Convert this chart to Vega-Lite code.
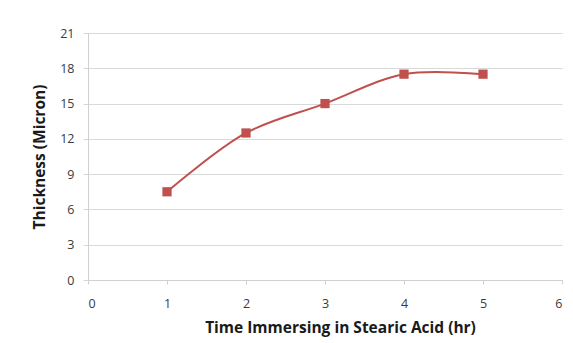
{
  "$schema": "https://vega.github.io/schema/vega-lite/v6.json",
  "width": 474,
  "height": 247,
  "autosize": {"type": "none"},
  "padding": {"left": 88, "top": 33, "right": 11, "bottom": 63},
  "background": "white",
  "data": {
    "values": [
      {"time": 1, "thickness": 7.5},
      {"time": 2, "thickness": 12.5},
      {"time": 3, "thickness": 15},
      {"time": 4, "thickness": 17.5},
      {"time": 5, "thickness": 17.5}
    ]
  },
  "encoding": {
    "x": {
      "field": "time",
      "type": "quantitative",
      "scale": {"domain": [0, 6], "nice": false, "zero": false},
      "axis": {
        "title": "Time Immersing in Stearic Acid (hr)",
        "values": [0, 1, 2, 3, 4, 5, 6],
        "grid": false,
        "domain": true,
        "domainColor": "#d0d0d0",
        "domainWidth": 1,
        "ticks": true,
        "tickColor": "#d0d0d0",
        "tickSize": 4,
        "labelPadding": 13,
        "titlePadding": 11,
        "titleX": 252
      }
    },
    "y": {
      "field": "thickness",
      "type": "quantitative",
      "scale": {"domain": [0, 21], "nice": false},
      "axis": {
        "title": "Thickness (Micron)",
        "values": [0, 3, 6, 9, 12, 15, 18, 21],
        "grid": true,
        "gridColor": "#d9d9d9",
        "gridWidth": 1,
        "domain": true,
        "domainColor": "#d0d0d0",
        "ticks": true,
        "tickColor": "#d9d9d9",
        "tickSize": 5,
        "labelPadding": 9,
        "titlePadding": 12
      }
    }
  },
  "layer": [
    {
      "mark": {"type": "line", "interpolate": "catmull-rom", "color": "#C0504D", "strokeWidth": 2}
    },
    {
      "mark": {"type": "point", "shape": "square", "filled": true, "size": 85, "color": "#C0504D", "opacity": 1}
    }
  ],
  "config": {
    "view": {"stroke": null},
    "font": "Open Sans",
    "axis": {
      "labelFont": "Open Sans",
      "labelFontSize": 12.5,
      "labelColor": "#3a3a3a",
      "titleFont": "Open Sans",
      "titleFontSize": 15.5,
      "titleFontWeight": "bold",
      "titleColor": "#1a1a1a"
    }
  }
}
